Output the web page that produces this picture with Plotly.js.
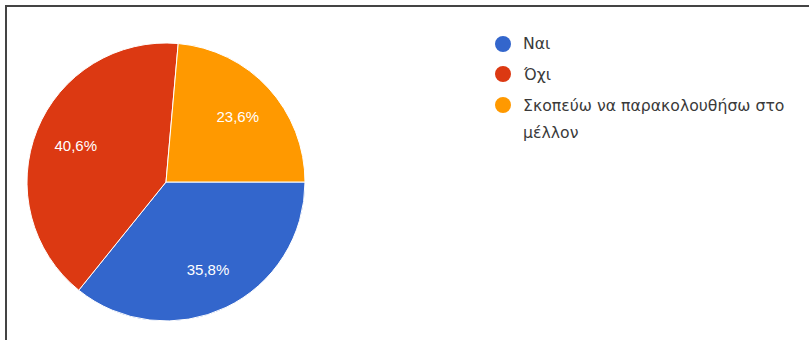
<!DOCTYPE html>
<html>
<head>
<meta charset="utf-8">
<script src="https://cdn.plot.ly/plotly-3.0.1.min.js"></script>
<style>html,body{margin:0;padding:0;background:#fff;}#chart{width:809px;height:340px;}</style>
</head>
<body>
<div id="chart"></div>
<script>
const categories = ["Ναι", "Όχι", "Σκοπεύω να παρακολουθήσω στο<br>μέλλον"];
const values = [35.8, 40.6, 23.6];
const colors = ["#3366CC", "#DC3912", "#FF9900"];

const W = 809, H = 340;
const px = x => x / W;
const py = y => 1 - y / H;

const cx = 166, cy = 182, r = 139;
const domain = {x: [px(cx - r), px(cx + r)], y: [py(cy + r), py(cy - r)]};

const base = {
  type: "pie",
  labels: categories,
  values: values,
  sort: false,
  direction: "clockwise",
  rotation: 90,
  marker: {colors: colors, line: {color: "#ffffff", width: 1}},
  textinfo: "none",
  hoverinfo: "none",
  showlegend: false,
  domain: domain
};
// transparent ring used only to place the percentage labels further out
const textLayer = {
  type: "pie",
  labels: categories,
  values: values,
  sort: false,
  direction: "clockwise",
  rotation: 90,
  hole: 0.4,
  marker: {colors: ["rgba(0,0,0,0)", "rgba(0,0,0,0)", "rgba(0,0,0,0)"], line: {color: "rgba(0,0,0,0)", width: 0}},
  texttemplate: "%{percent:.1%}",
  textposition: "inside",
  insidetextorientation: "horizontal",
  textfont: {family: "Liberation Sans, Arial, sans-serif", size: 15, color: "#ffffff"},
  hoverinfo: "none",
  showlegend: false,
  domain: domain
};

const legendY = [44, 74, 105];
const lineGap = 28;
const shapes = [
  {type: "line", xref: "paper", yref: "paper", x0: px(5), x1: 1, y0: py(6), y1: py(6), line: {color: "#444", width: 2}},
  {type: "line", xref: "paper", yref: "paper", x0: px(6), x1: px(6), y0: py(5), y1: 0, line: {color: "#444", width: 2}}
];
const annotations = [];
categories.forEach((c, i) => {
  const y = legendY[i];
  shapes.push({type: "circle", xref: "paper", yref: "paper",
    x0: px(503 - 8), x1: px(503 + 8), y0: py(y + 8), y1: py(y - 8),
    fillcolor: colors[i], line: {width: 0}});
  c.split("<br>").forEach((line, j) => {
    annotations.push({xref: "paper", yref: "paper", x: px(521), y: py(y + j * lineGap),
      xanchor: "left", yanchor: "middle", align: "left", showarrow: false,
      text: line, font: {family: "DejaVu Sans, sans-serif", size: 15.7, color: "#3a3a3a"}});
  });
});

const layout = {
  width: W, height: H,
  margin: {l: 0, r: 0, t: 0, b: 0},
  paper_bgcolor: "#ffffff",
  separators: ",.",
  showlegend: false,
  uniformtext: {mode: "show", minsize: 15},
  shapes: shapes,
  annotations: annotations
};

Plotly.newPlot("chart", [base, textLayer], layout, {displayModeBar: false, staticPlot: true});
</script>
</body>
</html>
